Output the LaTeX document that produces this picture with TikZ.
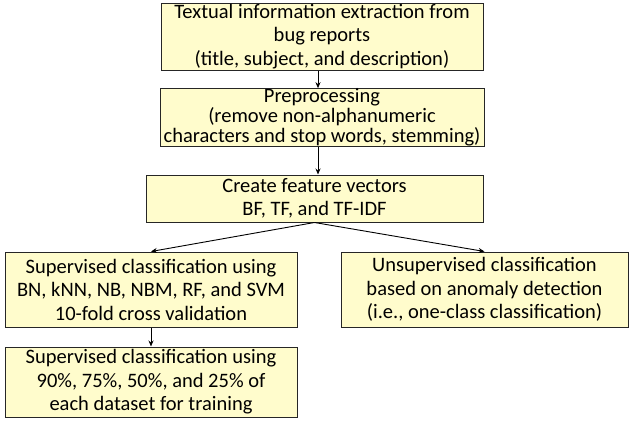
\documentclass[tikz,border=0pt]{standalone}
\usepackage{fontspec}
\setmainfont{Carlito}
\usetikzlibrary{arrows.meta}
\begin{document}
\begin{tikzpicture}[x=1pt,y=-1pt,
  box/.style={draw=black!85, line width=1pt, fill=yellow!20!white, inner sep=0pt,
    align=center, font=\fontsize{20.5}{23.5}\selectfont},
  tight/.style={font=\fontsize{20.5}{20}\selectfont},
  conn/.style={-{Stealth[length=6pt,width=5pt]}, line width=0.9pt, black}]
\useasboundingbox (0,0) rectangle (629,421);
\node[box, minimum width=322, minimum height=67] (b1) at (322,36.5)
  {Textual information extraction from\\bug reports\\(title, subject, and description)};
\node[box, tight, minimum width=324, minimum height=57] (b2) at (322,117.5)
  {Preprocessing\\(remove non-alphanumeric\\characters and stop words, stemming)};
\node[box, minimum width=337, minimum height=47] (b3) at (314.5,198.5)
  {Create feature vectors\\BF, TF, and TF-IDF};
\node[box, minimum width=292, minimum height=75] (b4) at (151,289.5)
  {Supervised classification using\\BN, kNN, NB, NBM, RF, and SVM\\10-fold cross validation};
\node[box, minimum width=292, minimum height=70] (b5) at (151,382)
  {Supervised classification using\\90\%, 75\%, 50\%, and 25\% of\\each dataset for training};
\node[box, minimum width=287, minimum height=75] (b6) at (484.5,289.5)
  {Unsupervised classification\\based on anomaly detection\\(i.e., one-class classification)};
\coordinate (c1) at (318,0);
\draw[conn] (b1.south -| c1) -- (b2.north -| c1);
\draw[conn] (b2.south -| c1) -- (b3.north -| c1);
\draw[conn] (b3.south) -- (b4.north);
\draw[conn] (b3.south) -- (b6.north);
\draw[conn] (b4.south) -- (b5.north);
\end{tikzpicture}
\end{document}
